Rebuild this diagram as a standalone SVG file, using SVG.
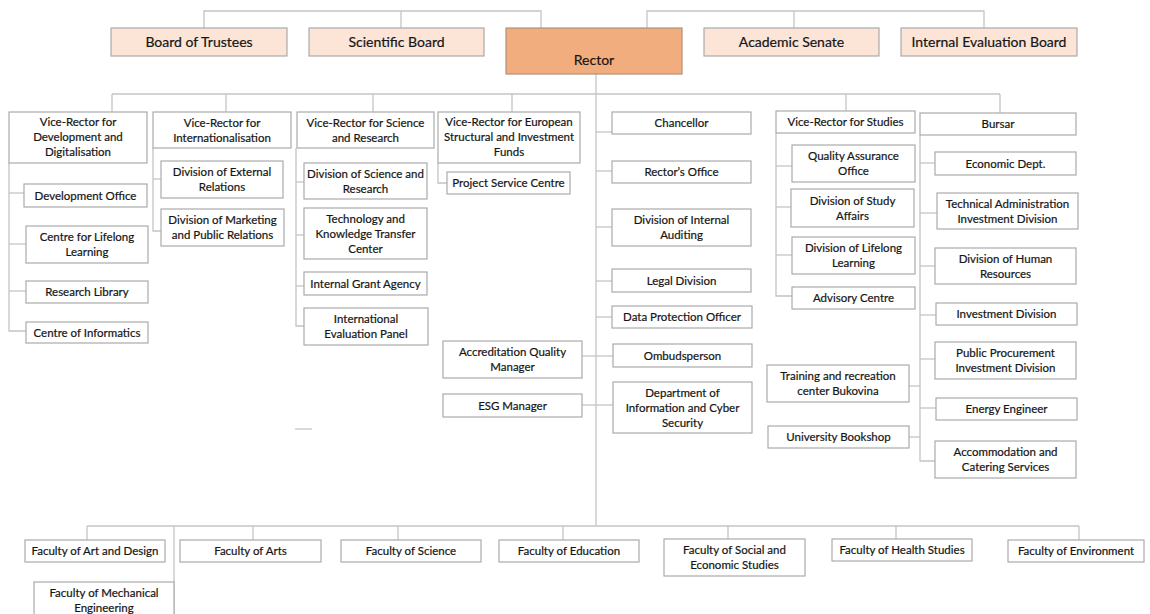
<svg xmlns="http://www.w3.org/2000/svg" width="1150" height="614" viewBox="0 0 1150 614">
<style>
.bx{fill:#fff;stroke:#ababab;stroke-width:1.2}
.tp{fill:#fce4d6;stroke:#ababab;stroke-width:1.2}
.rc{fill:#f1ad7e;stroke:#b0927c;stroke-width:1.2}
.ln{fill:none;stroke:#c4c4c4;stroke-width:1.3}
text{font-family:Lato,"Liberation Sans",sans-serif;font-size:11.5px;fill:#151515;stroke:#151515;stroke-width:0.2;text-anchor:middle}
.big{font-size:14px}
</style>
<g id="connectors" class="ln">
<polyline points="204,28 204,11 541,11 541,28"/>
<line x1="401" y1="11" x2="401" y2="28"/>
<polyline points="647,28 647,11 984,11 984,28"/>
<line x1="794" y1="11" x2="794" y2="28"/>
<line x1="596" y1="74" x2="596" y2="526"/>
<line x1="112" y1="94" x2="1000" y2="94"/>
<line x1="112" y1="94" x2="112" y2="112"/>
<line x1="226" y1="94" x2="226" y2="112"/>
<line x1="373" y1="94" x2="373" y2="112"/>
<line x1="512" y1="94" x2="512" y2="112"/>
<line x1="846" y1="94" x2="846" y2="111"/>
<line x1="1000" y1="94" x2="1000" y2="113"/>
<polyline points="9,163 9,331 26,331"/>
<line x1="9" y1="193" x2="24" y2="193"/>
<line x1="9" y1="244" x2="26" y2="244"/>
<line x1="9" y1="291" x2="26" y2="291"/>
<polyline points="153,148 153,231 161,231"/>
<line x1="153" y1="179" x2="161" y2="179"/>
<polyline points="296,148 296,326 304,326"/>
<line x1="296" y1="182" x2="304" y2="182"/>
<line x1="296" y1="235" x2="304" y2="235"/>
<line x1="296" y1="286" x2="304" y2="286"/>
<polyline points="438,163 438,183 447,183"/>
<line x1="596" y1="132" x2="612" y2="132"/>
<line x1="596" y1="171" x2="612" y2="171"/>
<line x1="596" y1="227" x2="612" y2="227"/>
<line x1="596" y1="281" x2="612" y2="281"/>
<line x1="596" y1="317" x2="612" y2="317"/>
<line x1="582" y1="356" x2="613" y2="356"/>
<line x1="582" y1="405" x2="613" y2="405"/>
<polyline points="776,133 776,296 792,296"/>
<line x1="776" y1="166" x2="792" y2="166"/>
<line x1="776" y1="207" x2="791" y2="207"/>
<line x1="776" y1="255" x2="792" y2="255"/>
<polyline points="920,135 920,461 935,461"/>
<line x1="920" y1="163" x2="935" y2="163"/>
<line x1="920" y1="213" x2="937" y2="213"/>
<line x1="920" y1="266" x2="935" y2="266"/>
<line x1="920" y1="315" x2="936" y2="315"/>
<line x1="920" y1="359" x2="935" y2="359"/>
<line x1="920" y1="408" x2="936" y2="408"/>
<line x1="909" y1="386" x2="920" y2="386"/>
<line x1="909" y1="437" x2="920" y2="437"/>
<line x1="87" y1="526" x2="1079" y2="526"/>
<line x1="87" y1="526" x2="87" y2="540"/>
<line x1="253" y1="526" x2="253" y2="540"/>
<line x1="398" y1="526" x2="398" y2="540"/>
<line x1="563" y1="526" x2="563" y2="540"/>
<line x1="728" y1="526" x2="728" y2="539"/>
<line x1="896" y1="526" x2="896" y2="539"/>
<line x1="1079" y1="526" x2="1079" y2="540"/>
<line x1="174" y1="526" x2="174" y2="614"/>
<line x1="295" y1="429" x2="312" y2="429"/>
</g>

<g id="board-of-trustees"><rect class="tp" x="111" y="28" width="176" height="28"/><text class="big" x="199" y="47">Board of Trustees</text></g>
<g id="scientific-board"><rect class="tp" x="309" y="28" width="175" height="28"/><text class="big" x="396.5" y="47">Scientific Board</text></g>
<g id="rector"><rect class="rc" x="506" y="28" width="176" height="46"/><text class="big" x="594" y="65">Rector</text></g>
<g id="academic-senate"><rect class="tp" x="704" y="28" width="175" height="28"/><text class="big" x="791.5" y="47">Academic Senate</text></g>
<g id="internal-evaluation-board"><rect class="tp" x="901" y="28" width="176" height="28"/><text class="big" x="989" y="47">Internal Evaluation Board</text></g>

<g id="vr-development"><rect class="bx" x="9" y="112" width="138" height="51"/><text x="78" y="126">Vice-Rector for</text><text x="78" y="141">Development and</text><text x="78" y="156">Digitalisation</text></g>
<g id="vr-internationalisation"><rect class="bx" x="153" y="112" width="138" height="36"/><text x="222" y="126.5">Vice-Rector for</text><text x="222" y="141.5">Internationalisation</text></g>
<g id="vr-science"><rect class="bx" x="297" y="112" width="137" height="36"/><text x="365.5" y="126.5">Vice-Rector for Science</text><text x="365.5" y="141.5">and Research</text></g>
<g id="vr-european"><rect class="bx" x="438" y="112" width="142" height="51"/><text x="509" y="126">Vice-Rector for European</text><text x="509" y="141">Structural and Investment</text><text x="509" y="156">Funds</text></g>

<g id="development-office"><rect class="bx" x="24" y="184" width="123" height="23"/><text x="85.5" y="199.5">Development Office</text></g>
<g id="centre-lifelong-learning"><rect class="bx" x="26" y="226" width="122" height="37"/><text x="87" y="241">Centre for Lifelong</text><text x="87" y="256">Learning</text></g>
<g id="research-library"><rect class="bx" x="26" y="281" width="122" height="22"/><text x="87" y="296">Research Library</text></g>
<g id="centre-informatics"><rect class="bx" x="26" y="322" width="122" height="21"/><text x="87" y="336.5">Centre of Informatics</text></g>

<g id="external-relations"><rect class="bx" x="161" y="161" width="122" height="37"/><text x="222" y="176">Division of External</text><text x="222" y="191">Relations</text></g>
<g id="marketing"><rect class="bx" x="161" y="209" width="123" height="37"/><text x="222.5" y="224">Division of Marketing</text><text x="222.5" y="239">and Public Relations</text></g>

<g id="science-research"><rect class="bx" x="304" y="163" width="123" height="36"/><text x="365.5" y="177.5">Division of Science and</text><text x="365.5" y="192.5">Research</text></g>
<g id="technology-transfer"><rect class="bx" x="304" y="208" width="123" height="51"/><text x="365.5" y="222.5">Technology and</text><text x="365.5" y="237.5">Knowledge Transfer</text><text x="365.5" y="252.5">Center</text></g>
<g id="internal-grant-agency"><rect class="bx" x="304" y="272" width="123" height="23"/><text x="365.5" y="287.5">Internal Grant Agency</text></g>
<g id="international-evaluation-panel"><rect class="bx" x="304" y="308" width="124" height="37"/><text x="366" y="323">International</text><text x="366" y="338">Evaluation Panel</text></g>

<g id="project-service-centre"><rect class="bx" x="447" y="172" width="123" height="22"/><text x="508.5" y="187">Project Service Centre</text></g>

<g id="chancellor"><rect class="bx" x="612" y="112" width="139" height="22"/><text x="681.5" y="127">Chancellor</text></g>
<g id="rectors-office"><rect class="bx" x="612" y="161" width="139" height="22"/><text x="681.5" y="176">Rector’s Office</text></g>
<g id="internal-auditing"><rect class="bx" x="612" y="209" width="139" height="37"/><text x="681.5" y="224">Division of Internal</text><text x="681.5" y="239">Auditing</text></g>
<g id="legal-division"><rect class="bx" x="612" y="269" width="139" height="23"/><text x="681.5" y="284.5">Legal Division</text></g>
<g id="data-protection-officer"><rect class="bx" x="612" y="306" width="140" height="22"/><text x="682" y="321">Data Protection Officer</text></g>
<g id="ombudsperson"><rect class="bx" x="613" y="344" width="139" height="23"/><text x="682.5" y="359.5">Ombudsperson</text></g>
<g id="information-cyber-security"><rect class="bx" x="613" y="382" width="139" height="51"/><text x="682.5" y="396.5">Department of</text><text x="682.5" y="411.5">Information and Cyber</text><text x="682.5" y="426.5">Security</text></g>
<g id="accreditation-quality-manager"><rect class="bx" x="443" y="341" width="139" height="37"/><text x="512.5" y="356">Accreditation Quality</text><text x="512.5" y="371">Manager</text></g>
<g id="esg-manager"><rect class="bx" x="443" y="394" width="139" height="23"/><text x="512.5" y="409.5">ESG Manager</text></g>

<g id="vr-studies"><rect class="bx" x="776" y="111" width="139" height="22"/><text x="845.5" y="126">Vice-Rector for Studies</text></g>
<g id="quality-assurance-office"><rect class="bx" x="792" y="145" width="123" height="37"/><text x="853.5" y="160">Quality Assurance</text><text x="853.5" y="175">Office</text></g>
<g id="study-affairs"><rect class="bx" x="791" y="189" width="123" height="38"/><text x="852.5" y="204.5">Division of Study</text><text x="852.5" y="219.5">Affairs</text></g>
<g id="division-lifelong-learning"><rect class="bx" x="792" y="237" width="123" height="37"/><text x="853.5" y="252">Division of Lifelong</text><text x="853.5" y="267">Learning</text></g>
<g id="advisory-centre"><rect class="bx" x="792" y="287" width="123" height="22"/><text x="853.5" y="302">Advisory Centre</text></g>

<g id="bursar"><rect class="bx" x="920" y="113" width="156" height="22"/><text x="998" y="128">Bursar</text></g>
<g id="economic-dept"><rect class="bx" x="935" y="152" width="141" height="23"/><text x="1005.5" y="167.5">Economic Dept.</text></g>
<g id="technical-administration"><rect class="bx" x="937" y="193" width="141" height="36"/><text x="1007.5" y="207.5">Technical Administration</text><text x="1007.5" y="222.5">Investment Division</text></g>
<g id="human-resources"><rect class="bx" x="935" y="248" width="141" height="36"/><text x="1005.5" y="262.5">Division of Human</text><text x="1005.5" y="277.5">Resources</text></g>
<g id="investment-division"><rect class="bx" x="936" y="303" width="141" height="22"/><text x="1006.5" y="318">Investment Division</text></g>
<g id="public-procurement"><rect class="bx" x="935" y="342" width="141" height="37"/><text x="1005.5" y="357">Public Procurement</text><text x="1005.5" y="372">Investment Division</text></g>
<g id="training-centre"><rect class="bx" x="767" y="365" width="142" height="37"/><text x="838" y="380">Training and recreation</text><text x="838" y="395">center Bukovina</text></g>
<g id="energy-engineer"><rect class="bx" x="936" y="398" width="141" height="22"/><text x="1006.5" y="413">Energy Engineer</text></g>
<g id="university-bookshop"><rect class="bx" x="768" y="426" width="141" height="22"/><text x="838.5" y="441">University Bookshop</text></g>
<g id="accommodation"><rect class="bx" x="935" y="441" width="141" height="37"/><text x="1005.5" y="456">Accommodation and</text><text x="1005.5" y="471">Catering Services</text></g>

<g id="faculty-art-design"><rect class="bx" x="25" y="540" width="140" height="22"/><text x="95" y="555">Faculty of Art and Design</text></g>
<g id="faculty-arts"><rect class="bx" x="180" y="540" width="141" height="22"/><text x="250.5" y="555">Faculty of Arts</text></g>
<g id="faculty-science"><rect class="bx" x="341" y="540" width="140" height="22"/><text x="411" y="555">Faculty of Science</text></g>
<g id="faculty-education"><rect class="bx" x="499" y="540" width="140" height="22"/><text x="569" y="555">Faculty of Education</text></g>
<g id="faculty-social-economic"><rect class="bx" x="664" y="539" width="141" height="37"/><text x="734.5" y="554">Faculty of Social and</text><text x="734.5" y="569">Economic Studies</text></g>
<g id="faculty-health"><rect class="bx" x="832" y="539" width="140" height="22"/><text x="902" y="554">Faculty of Health Studies</text></g>
<g id="faculty-environment"><rect class="bx" x="1008" y="540" width="136" height="22"/><text x="1076" y="555">Faculty of Environment</text></g>
<g id="faculty-mechanical"><rect class="bx" x="34" y="582" width="140" height="50"/><text x="104" y="597">Faculty of Mechanical</text><text x="104" y="612">Engineering</text></g>
</svg>
